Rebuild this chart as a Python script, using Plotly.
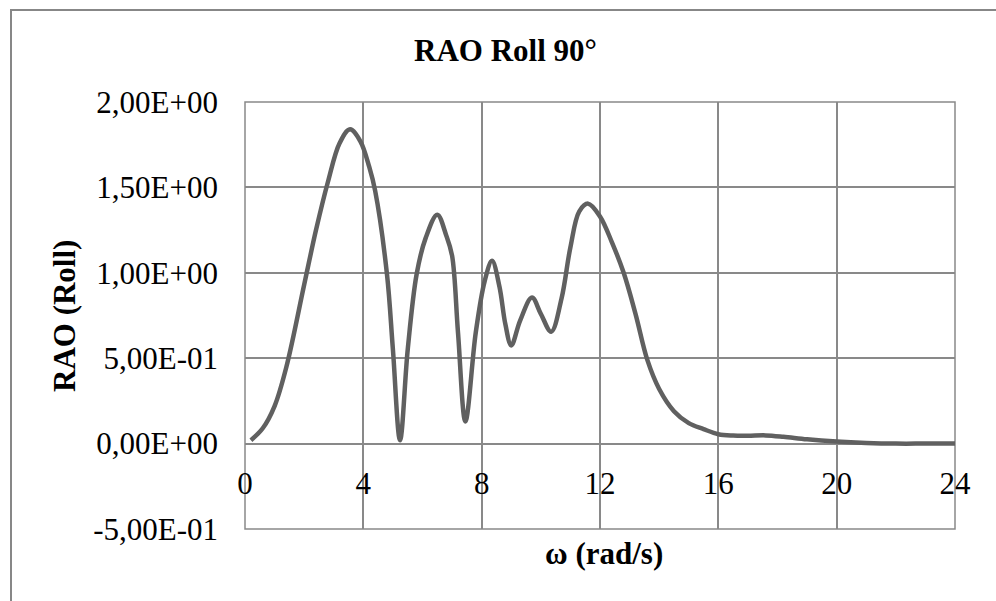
import plotly.graph_objects as go

# Roll response amplitude operator, beam seas (90 deg)
omega = [0.2, 0.6, 1.0, 1.4, 2.0, 2.4, 2.8, 3.2, 3.55, 3.9, 4.2, 4.4, 4.8, 5.0,
         5.24, 5.5, 5.8, 6.1, 6.5, 6.8, 7.0, 7.2, 7.45, 7.8, 8.1, 8.35, 8.6, 8.8,
         9.0, 9.3, 9.7, 10.0, 10.35, 10.7, 11.0, 11.3, 11.6, 12.0, 12.4, 12.8,
         13.2, 13.6, 14.0, 14.5, 15.0, 15.5, 16.0, 16.5, 17.0, 17.6, 18.2, 19.0,
         20.0, 21.0, 22.0, 23.0, 24.0]
rao_roll = [0.02, 0.09, 0.22, 0.45, 0.93, 1.25, 1.53, 1.76, 1.84, 1.77, 1.62, 1.48,
            0.99, 0.55, 0.02, 0.55, 0.99, 1.20, 1.34, 1.22, 1.10, 0.65, 0.13, 0.65,
            0.95, 1.07, 0.92, 0.70, 0.575, 0.72, 0.855, 0.76, 0.655, 0.85, 1.15,
            1.36, 1.405, 1.33, 1.18, 1.00, 0.76, 0.49, 0.32, 0.19, 0.12, 0.085,
            0.055, 0.047, 0.046, 0.048, 0.040, 0.025, 0.012, 0.004, 0.0, 0.0, 0.0]

x_ticks = [0, 4, 8, 12, 16, 20, 24]
y_ticks = [-0.5, 0.0, 0.5, 1.0, 1.5, 2.0]
y_tick_text = ["-5,00E-01", "0,00E+00", "5,00E-01", "1,00E+00", "1,50E+00", "2,00E+00"]

FONT = "Liberation Serif, Times New Roman, serif"
GRID = "#898989"
W, H = 996, 601
L, R, T, B = 245, 41, 102, 72
pw, ph = W - L - R, H - T - B


def px_x(p):
    return (p - L) / pw


def px_y(p):
    return (H - B - p) / ph


fig = go.Figure()
fig.add_trace(go.Scatter(
    x=omega, y=rao_roll, mode="lines",
    line=dict(color="#606060", width=4.5, shape="spline", smoothing=1.0),
    hoverinfo="skip", showlegend=False,
))

fig.update_layout(
    width=W, height=H,
    margin=dict(l=L, r=R, t=T, b=B),
    paper_bgcolor="white", plot_bgcolor="white",
    font=dict(family=FONT, size=31, color="black"),
    xaxis=dict(
        range=[0, 24], tickvals=x_ticks, ticktext=[str(v) for v in x_ticks],
        showgrid=True, gridcolor=GRID, gridwidth=1.5, zeroline=False,
        showline=False, ticks="", anchor="free", position=0.2,
        ticklabelstandoff=18, tickfont=dict(family=FONT, size=31),
    ),
    yaxis=dict(
        range=[-0.5, 2.0], tickvals=y_ticks, ticktext=y_tick_text,
        showgrid=True, gridcolor=GRID, gridwidth=1.5, zeroline=False,
        showline=False, ticks="", ticklabelstandoff=26,
        tickfont=dict(family=FONT, size=31),
    ),
    shapes=[
        # plot-area frame
        dict(type="rect", xref="x domain", yref="y domain", x0=0, x1=1, y0=0, y1=1,
             line=dict(color=GRID, width=1.5), layer="below"),
        # chart-area border
        dict(type="rect", xref="paper", yref="paper",
             x0=px_x(11), x1=px_x(1010), y0=px_y(620), y1=px_y(10),
             line=dict(color="#878787", width=2)),
    ],
    annotations=[
        dict(text="<b>RAO Roll 90°</b>", xref="paper", yref="paper",
             x=px_x(505), y=px_y(50), xanchor="center", yanchor="middle",
             showarrow=False, font=dict(family=FONT, size=31)),
        dict(text="<b>ω (rad/s)</b>", xref="paper", yref="paper",
             x=px_x(604), y=px_y(553), xanchor="center", yanchor="middle",
             showarrow=False, font=dict(family=FONT, size=31)),
        dict(text="<b>RAO (Roll)</b>", xref="paper", yref="paper",
             x=px_x(64), y=px_y(316), xanchor="center", yanchor="middle",
             textangle=-90, showarrow=False, font=dict(family=FONT, size=31)),
    ],
)

fig.write_html("out.html")
